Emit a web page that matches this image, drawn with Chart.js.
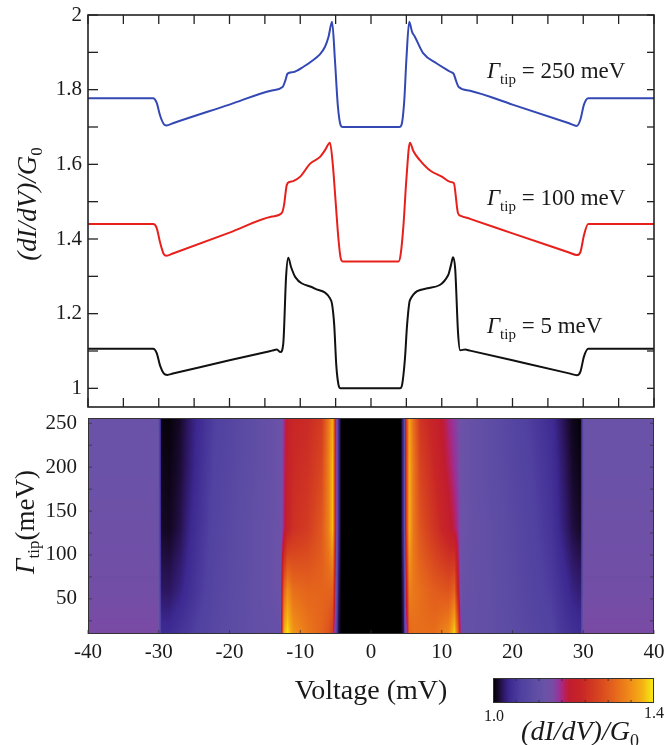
<!DOCTYPE html>
<html>
<head>
<meta charset="utf-8">
<script src="https://cdn.jsdelivr.net/npm/chart.js@4.4.0/dist/chart.umd.min.js"></script>
<style>
  html, body { margin: 0; padding: 0; background: #fff; }
  #wrap { position: relative; width: 666px; height: 745px; }
  #topBox { position: absolute; left: 0; top: 0; width: 666px; height: 412px; }
  #mapBox { position: absolute; left: 0; top: 412px; width: 666px; height: 333px; }
</style>
</head>
<body>
<div id="wrap">
  <div id="topBox"><canvas id="curveChart"></canvas></div>
  <div id="mapBox"><canvas id="mapChart"></canvas></div>
</div>
<script>
// axes
const xLabels = [-40, -30, -20, -10, 0, 10, 20, 30, 40];
const xMinor = [-35, -25, -15, -5, 5, 15, 25, 35];
const topYLabels = [1, 1.2, 1.4, 1.6, 1.8, 2];
const topYMinor = [1.1, 1.3, 1.5, 1.7, 1.9];
const mapYLabels = [50, 100, 150, 200, 250];
const mapYMinor = [25, 75, 125, 175, 225];
const cbRange = [1.0, 1.4];
const cbMinor = [1.057, 1.114, 1.171, 1.229, 1.286, 1.343];

// curves, Gamma_tip = 5 / 100 / 250 meV (as drawn, with vertical offsets)
const blackV = [-40, -30.8, -30.3, -29.8, -29.3, -28.8, -28, -20, -14, -13.3, -12.8, -12.4, -12.0, -11.7, -11.3, -10.7, -8.0, -5.8, -5.5, -5.2, -4.9, -4.6, -4.3, 0, 4.1, 4.4, 4.8, 5.1, 5.5, 8.0, 10.9, 11.3, 11.6, 11.9, 12.3, 12.6, 13.3, 14, 20, 28, 29.1, 29.6, 30.1, 30.7, 40];
const blackG = [1.106, 1.106, 1.095, 1.060, 1.040, 1.036, 1.0395, 1.075, 1.101, 1.104, 1.097, 1.12, 1.30, 1.350, 1.325, 1.298, 1.268, 1.241, 1.225, 1.17, 1.06, 1.01, 1.0, 1.0, 1.0, 1.01, 1.08, 1.17, 1.236, 1.268, 1.303, 1.33, 1.351, 1.32, 1.15, 1.102, 1.104, 1.101, 1.075, 1.040, 1.035, 1.045, 1.085, 1.106, 1.106];

const redV = [-40, -30.8, -30.3, -29.8, -29.3, -28.9, -28, -20, -14, -12.6, -12.3, -11.9, -11.5, -11.0, -10.0, -8.6, -7.2, -6.5, -5.8, -5.4, -5.0, -4.6, -4.3, -4.0, 0, 3.9, 4.2, 4.6, 5.0, 5.5, 6.0, 6.9, 8.3, 10.0, 11.2, 11.7, 12.3, 12.7, 14, 20, 28, 29.1, 29.6, 30.1, 30.7, 40];
const redG = [1.440, 1.440, 1.43, 1.39, 1.36, 1.355, 1.361, 1.417, 1.460, 1.470, 1.49, 1.545, 1.553, 1.555, 1.567, 1.602, 1.620, 1.638, 1.658, 1.60, 1.50, 1.40, 1.35, 1.340, 1.340, 1.340, 1.36, 1.44, 1.56, 1.658, 1.635, 1.611, 1.584, 1.567, 1.553, 1.550, 1.469, 1.462, 1.454, 1.415, 1.364, 1.357, 1.365, 1.41, 1.440, 1.440];

const blueV = [-40, -30.8, -30.3, -29.8, -29.3, -28.9, -28, -20, -14, -12.5, -12.1, -11.8, -11.0, -9.5, -8.2, -7.3, -6.5, -6.0, -5.5, -5.1, -4.7, -4.3, -4.0, 0, 4.0, 4.3, 4.7, 5.0, 5.4, 5.8, 6.2, 7.4, 9.3, 11.2, 11.7, 12.0, 12.4, 14, 20, 28, 29.1, 29.6, 30.1, 30.7, 40];
const blueG = [1.777, 1.777, 1.765, 1.73, 1.708, 1.704, 1.710, 1.760, 1.798, 1.807, 1.825, 1.843, 1.847, 1.862, 1.879, 1.893, 1.915, 1.942, 1.982, 1.88, 1.76, 1.705, 1.700, 1.700, 1.700, 1.705, 1.77, 1.88, 1.982, 1.955, 1.942, 1.897, 1.870, 1.848, 1.842, 1.825, 1.807, 1.797, 1.760, 1.710, 1.703, 1.72, 1.76, 1.777, 1.777];

// colour map (dI/dV)/G0 vs voltage and Gamma_tip
const hmV = [-40, -30.1, -29.6, -28.5, -27.0, -25.5, -22.0, -16, -12.8, -12.3, -11.8, -11.0, -9.0, -7.0, -6.0, -5.4, -5.0, -4.6, -4.2, 4.2, 4.6, 5.0, 5.4, 6.0, 7.0, 9.0, 11.0, 11.8, 12.3, 12.8, 16, 22, 25.5, 27, 28.5, 29.6, 30.1, 40];
const hmGamma = [10, 60, 130, 200, 256];
const hm10  = [1.15, 1.15, 1.045, 1.045, 1.055, 1.065, 1.09, 1.115, 1.12, 1.37, 1.395, 1.35, 1.32, 1.30, 1.28, 1.25, 1.10, 1.02, 1.0, 1.0, 1.02, 1.15, 1.30, 1.31, 1.31, 1.31, 1.34, 1.39, 1.30, 1.12, 1.115, 1.09, 1.075, 1.06, 1.05, 1.045, 1.15, 1.15];
const hm60  = [1.14, 1.14, 1.025, 1.025, 1.035, 1.05, 1.085, 1.115, 1.13, 1.30, 1.34, 1.31, 1.30, 1.30, 1.30, 1.30, 1.15, 1.03, 1.0, 1.0, 1.03, 1.20, 1.33, 1.32, 1.31, 1.29, 1.28, 1.30, 1.20, 1.125, 1.115, 1.085, 1.065, 1.05, 1.035, 1.03, 1.14, 1.14];
const hm130 = [1.135, 1.135, 1.012, 1.01, 1.02, 1.04, 1.08, 1.115, 1.13, 1.175, 1.21, 1.235, 1.25, 1.285, 1.33, 1.38, 1.20, 1.05, 1.0, 1.0, 1.05, 1.25, 1.37, 1.32, 1.28, 1.24, 1.20, 1.18, 1.165, 1.13, 1.115, 1.08, 1.055, 1.035, 1.018, 1.012, 1.135, 1.135];
const hm200 = [1.13, 1.13, 1.008, 1.006, 1.015, 1.032, 1.075, 1.11, 1.13, 1.17, 1.205, 1.225, 1.235, 1.265, 1.33, 1.38, 1.20, 1.05, 1.0, 1.0, 1.05, 1.25, 1.37, 1.32, 1.26, 1.22, 1.18, 1.165, 1.155, 1.13, 1.11, 1.075, 1.05, 1.03, 1.012, 1.006, 1.13, 1.13];
const hm256 = [1.13, 1.13, 1.005, 1.003, 1.012, 1.03, 1.07, 1.11, 1.13, 1.165, 1.20, 1.22, 1.225, 1.25, 1.32, 1.37, 1.20, 1.05, 1.0, 1.0, 1.05, 1.25, 1.36, 1.31, 1.24, 1.21, 1.17, 1.16, 1.15, 1.13, 1.11, 1.07, 1.045, 1.025, 1.008, 1.003, 1.13, 1.13];
const hmRows = [hm10, hm60, hm130, hm200, hm256];

// palette
const cmapStops = [1.000, 1.012, 1.025, 1.04, 1.07, 1.10, 1.13, 1.15, 1.165, 1.178, 1.19, 1.22, 1.26, 1.30, 1.34, 1.37, 1.40];
const cmapColors = ['#000000', '#160828', '#2c1660', '#3c2890', '#5040a0', '#5c4ca4', '#6a52a8', '#7a4aa4', '#9a3098', '#b8205c', '#c01c30', '#c82626', '#d64220', '#e4641c', '#f08c18', '#f4b014', '#f8f010'];

const SERIF = "'Liberation Serif', 'DejaVu Serif', serif";
Chart.defaults.font.family = SERIF;
Chart.defaults.color = '#1a1a1a';

const cmapRGB = cmapColors.map(c => [1, 3, 5].map(i => parseInt(c.substr(i, 2), 16)));

function bracket(arr, v) {
  if (v <= arr[0]) return [0, 0, 0];
  const n = arr.length - 1;
  if (v >= arr[n]) return [n, n, 0];
  let k = 0;
  while (k < n - 1 && v > arr[k + 1]) k++;
  return [k, k + 1, (v - arr[k]) / (arr[k + 1] - arr[k])];
}

function cmap(val) {
  const [a, b, t] = bracket(cmapStops, val);
  const ca = cmapRGB[a], cb = cmapRGB[b];
  return [0, 1, 2].map(i => Math.round(ca[i] + (cb[i] - ca[i]) * t));
}

// text with italic parts and subscripts
function richText(ctx, parts, x, y, size, center, subDrop) {
  const drop = subDrop === undefined ? 0.24 : subDrop;
  const fontOf = p => p[1] === 'i' ? `italic ${size}px ${SERIF}`
    : p[1] === 's' ? `${Math.round(size * 0.64)}px ${SERIF}` : `${size}px ${SERIF}`;
  const widths = parts.map(p => { ctx.font = fontOf(p); return ctx.measureText(p[0]).width; });
  const total = widths.reduce((s, w) => s + w, 0);
  let cx = center ? x - total / 2 : x;
  ctx.textAlign = 'left';
  ctx.textBaseline = 'alphabetic';
  parts.forEach((p, i) => {
    ctx.font = fontOf(p);
    ctx.fillText(p[0], cx, p[1] === 's' ? y + size * drop : y);
    cx += widths[i];
  });
}

function tickLine(ctx, x1, y1, x2, y2) {
  ctx.beginPath();
  ctx.moveTo(x1, y1);
  ctx.lineTo(x2, y2);
  ctx.stroke();
}

// keep the plot area where the layout padding puts it
function noLabelPad(s) {
  s.paddingTop = 0; s.paddingBottom = 0; s.paddingLeft = 0; s.paddingRight = 0;
}

const toPoints = (xs, ys) => xs.map((v, i) => ({ x: v, y: ys[i] }));

// top panel: frame, inward ticks, labels
const curveDecor = {
  id: 'curveDecor',
  afterDraw(chart) {
    const { ctx, chartArea: a, scales: { x, y } } = chart;
    ctx.save();
    ctx.strokeStyle = '#222';
    ctx.lineWidth = 1.3;
    xLabels.concat(xMinor).forEach(v => {
      const px = x.getPixelForValue(v);
      tickLine(ctx, px, a.top, px, a.top + 9);
      tickLine(ctx, px, a.bottom, px, a.bottom - 9);
    });
    topYLabels.concat(topYMinor).forEach(v => {
      const py = y.getPixelForValue(v);
      tickLine(ctx, a.left, py, a.left + 10, py);
      tickLine(ctx, a.right, py, a.right - 7, py);
    });
    ctx.lineWidth = 1.6;
    ctx.strokeRect(a.left, a.top, a.right - a.left, a.bottom - a.top);

    ctx.fillStyle = '#1a1a1a';
    const labs = [['250', 1.831], ['100', 1.491], ['5', 1.147]];
    labs.forEach(([g, yv]) => {
      richText(ctx, [['\u0393', 'i'], ['tip', 's'], [' = ' + g + ' meV', 'n']],
        x.getPixelForValue(16.4), y.getPixelForValue(yv), 23, false);
    });

    ctx.translate(36, 204);
    ctx.rotate(-Math.PI / 2);
    richText(ctx, [['(dI/dV)/G', 'i'], ['0', 's']], 0, 0, 27, true);
    ctx.restore();
  }
};

new Chart(document.getElementById('curveChart'), {
  type: 'line',
  data: {
    datasets: [
      { data: toPoints(blueV, blueG), borderColor: '#3448b4' },
      { data: toPoints(redV, redG), borderColor: '#e8201c' },
      { data: toPoints(blackV, blackG), borderColor: '#111111' }
    ].map(d => Object.assign(d, {
      borderWidth: 2, pointRadius: 0, fill: false, cubicInterpolationMode: 'monotone'
    }))
  },
  options: {
    responsive: true,
    maintainAspectRatio: false,
    animation: false,
    events: [],
    layout: { padding: { left: 0, right: 12, top: 15, bottom: 5 } },
    plugins: { legend: { display: false }, tooltip: { enabled: false } },
    scales: {
      x: {
        type: 'linear', min: -40, max: 40,
        display: false,
        afterFit: s => { s.height = 0; noLabelPad(s); }
      },
      y: {
        min: 0.95, max: 2,
        grid: { display: false, drawTicks: false },
        border: { display: false },
        afterBuildTicks: s => { s.ticks = topYLabels.map(v => ({ value: v })); },
        afterFit: s => { s.width = 88; noLabelPad(s); },
        ticks: { padding: 6, font: { size: 21 }, callback: v => String(v) }
      }
    }
  },
  plugins: [curveDecor]
});

// bottom panel: colour map, frame, colour bar
const mapPaint = {
  id: 'mapPaint',
  beforeDatasetsDraw(chart) {
    const { ctx, chartArea: a, scales: { x, y } } = chart;
    const w = Math.round(a.right - a.left), h = Math.round(a.bottom - a.top);
    const off = document.createElement('canvas');
    off.width = w; off.height = h;
    const octx = off.getContext('2d');
    const img = octx.createImageData(w, h);
    for (let j = 0; j < h; j++) {
      const g = y.getValueForPixel(a.top + j + 0.5);
      const [r0, r1, tg] = bracket(hmGamma, g);
      for (let i = 0; i < w; i++) {
        const v = x.getValueForPixel(a.left + i + 0.5);
        const [c0, c1, tv] = bracket(hmV, v);
        const lo = hmRows[r0][c0] + (hmRows[r0][c1] - hmRows[r0][c0]) * tv;
        const hi = hmRows[r1][c0] + (hmRows[r1][c1] - hmRows[r1][c0]) * tv;
        const rgb = cmap(lo + (hi - lo) * tg);
        const k = (j * w + i) * 4;
        img.data[k] = rgb[0]; img.data[k + 1] = rgb[1]; img.data[k + 2] = rgb[2]; img.data[k + 3] = 255;
      }
    }
    octx.putImageData(img, 0, 0);
    ctx.drawImage(off, a.left, a.top, a.right - a.left, a.bottom - a.top);
  },
  afterDraw(chart) {
    const { ctx, chartArea: a, scales: { x, y } } = chart;
    ctx.save();
    ctx.strokeStyle = 'rgba(50,50,60,0.75)';
    ctx.lineWidth = 1;
    xLabels.forEach(v => {
      const px = x.getPixelForValue(v);
      tickLine(ctx, px, a.bottom, px, a.bottom - 4);
    });
    mapYLabels.concat(mapYMinor).forEach(v => {
      const py = y.getPixelForValue(v);
      tickLine(ctx, a.left, py, a.left + 4, py);
      tickLine(ctx, a.right, py, a.right - 4, py);
    });
    ctx.strokeStyle = '#333';
    ctx.strokeRect(a.left + 0.5, a.top + 0.5, a.right - a.left - 1, a.bottom - a.top - 1);

    // colour bar
    const cb = { left: 493, right: 654, top: 266, bottom: 291 };
    for (let px = cb.left; px < cb.right; px++) {
      const val = cbRange[0] + (px + 0.5 - cb.left) / (cb.right - cb.left) * (cbRange[1] - cbRange[0]);
      const rgb = cmap(val);
      ctx.fillStyle = `rgb(${rgb[0]},${rgb[1]},${rgb[2]})`;
      ctx.fillRect(px, cb.top, 1, cb.bottom - cb.top);
    }
    ctx.strokeStyle = 'rgba(40,40,40,0.8)';
    cbMinor.forEach(v => {
      const px = cb.left + (v - cbRange[0]) / (cbRange[1] - cbRange[0]) * (cb.right - cb.left);
      tickLine(ctx, px, cb.top, px, cb.top + 3);
      tickLine(ctx, px, cb.bottom, px, cb.bottom - 3);
    });
    ctx.strokeStyle = '#333';
    ctx.strokeRect(cb.left + 0.5, cb.top + 0.5, cb.right - cb.left - 1, cb.bottom - cb.top - 1);

    ctx.fillStyle = '#1a1a1a';
    richText(ctx, [[cbRange[0].toFixed(1), 'n']], 484, 309, 16, false);
    richText(ctx, [[cbRange[1].toFixed(1), 'n']], 644, 306, 16, false);
    richText(ctx, [['(dI/dV)/G', 'i'], ['0', 's']], 580, 328, 28, true);

    ctx.translate(34, 110);
    ctx.rotate(-Math.PI / 2);
    richText(ctx, [['\u0393', 'i'], ['tip', 's'], ['(meV)', 'n']], 0, 0, 27, true, 0.18);
    ctx.restore();
  }
};

new Chart(document.getElementById('mapChart'), {
  type: 'scatter',
  data: { datasets: [] },
  options: {
    responsive: true,
    maintainAspectRatio: false,
    animation: false,
    events: [],
    layout: { padding: { left: 0, right: 12, top: 6, bottom: 0 } },
    plugins: { legend: { display: false }, tooltip: { enabled: false } },
    scales: {
      x: {
        type: 'linear', min: -40, max: 40,
        grid: { display: false, drawTicks: false },
        border: { display: false },
        afterBuildTicks: s => { s.ticks = xLabels.map(v => ({ value: v })); },
        afterFit: s => { s.height = 111; noLabelPad(s); },
        ticks: { padding: 6, autoSkip: false, maxRotation: 0, font: { size: 21 }, callback: v => String(v) },
        title: { display: true, text: 'Voltage (mV)', font: { size: 28 }, padding: { top: 0, bottom: 37 } }
      },
      y: {
        type: 'linear', min: 10, max: 256,
        grid: { display: false, drawTicks: false },
        border: { display: false },
        afterBuildTicks: s => { s.ticks = mapYLabels.map(v => ({ value: v })); },
        afterFit: s => { s.width = 88; noLabelPad(s); },
        ticks: { padding: 11, font: { size: 21 }, callback: v => String(v) }
      }
    }
  },
  plugins: [mapPaint]
});
</script>
</body>
</html>
